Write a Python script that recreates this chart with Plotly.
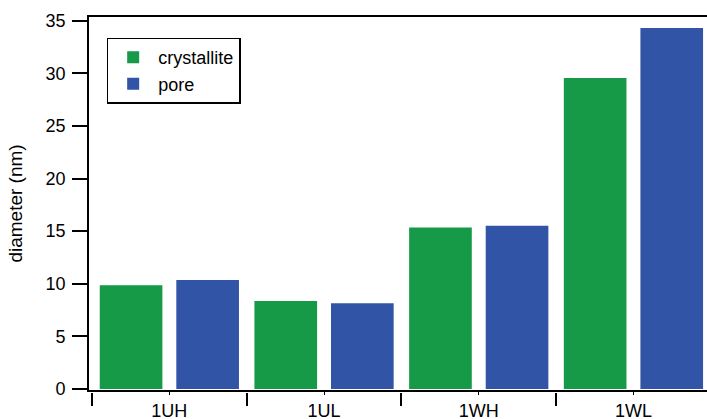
import plotly.graph_objects as go

# Sample names and measured diameters (nm)
samples = ["1UH", "1UL", "1WH", "1WL"]
crystallite = [9.85, 8.35, 15.35, 29.55]
pore = [10.35, 8.15, 15.5, 34.3]

y_ticks = [0, 5, 10, 15, 20, 25, 30, 35]

GREEN = "#169A48"
BLUE = "#3254A6"
FONT = "Liberation Sans, Arial, sans-serif"

x_range = [-0.5194, 3.4755]

fig = go.Figure()
fig.add_trace(go.Bar(
    x=samples, y=crystallite, name="crystallite",
    marker=dict(color=GREEN, line=dict(width=0)),
    width=0.405, offset=-0.45,
))
fig.add_trace(go.Bar(
    x=samples, y=pore, name="pore",
    marker=dict(color=BLUE, line=dict(width=0)),
    width=0.405, offset=0.045,
))
# helper trace so the boundary-tick axis is rendered
fig.add_trace(go.Scatter(
    x=[0], y=[None], xaxis="x2", yaxis="y",
    mode="markers", showlegend=False, hoverinfo="skip",
))

fig.update_layout(
    width=707, height=419,
    margin=dict(l=89, r=0, t=17, b=27, autoexpand=False),
    paper_bgcolor="white", plot_bgcolor="white",
    font=dict(family=FONT, size=18, color="black"),
    barmode="overlay",
    showlegend=True,
    legend=dict(
        x=0.0286, y=0.945, xanchor="left", yanchor="top",
        bordercolor="black", borderwidth=1.5, bgcolor="white",
        font=dict(family=FONT, size=18, color="black"),
        itemwidth=40, tracegroupgap=0,
    ),
    xaxis=dict(
        type="category", categoryorder="array", categoryarray=samples,
        range=x_range, automargin=False,
        showline=True, linecolor="black", linewidth=1.7, mirror=True,
        ticks="outside", ticklen=3, tickwidth=1, tickcolor="black",
        showgrid=False, zeroline=False,
        tickfont=dict(family=FONT, size=18, color="black"),
        ticklabelstandoff=1,
    ),
    xaxis2=dict(
        overlaying="x", anchor="free", position=0, side="bottom",
        range=x_range, type="linear", automargin=False,
        tickmode="array", tickvals=[-0.5, 0.5, 1.5, 2.5, 3.5],
        showticklabels=False,
        ticks="outside", ticklen=13, tickwidth=1.5, tickcolor="black",
        showline=False, showgrid=False, zeroline=False,
    ),
    yaxis=dict(
        domain=[2 / 375, 1],
        range=[-0.1, 35.35], automargin=False,
        tickmode="array", tickvals=y_ticks,
        showline=True, linecolor="black", linewidth=1.7,
        ticks="outside", ticklen=15, tickwidth=1.5, tickcolor="black",
        showgrid=False, zeroline=False,
        tickfont=dict(family=FONT, size=18, color="black"),
        ticklabelstandoff=3,
        title=dict(text="diameter (nm)", font=dict(family=FONT, size=19, color="black"), standoff=18),
    ),
)

fig.write_html("out.html")
